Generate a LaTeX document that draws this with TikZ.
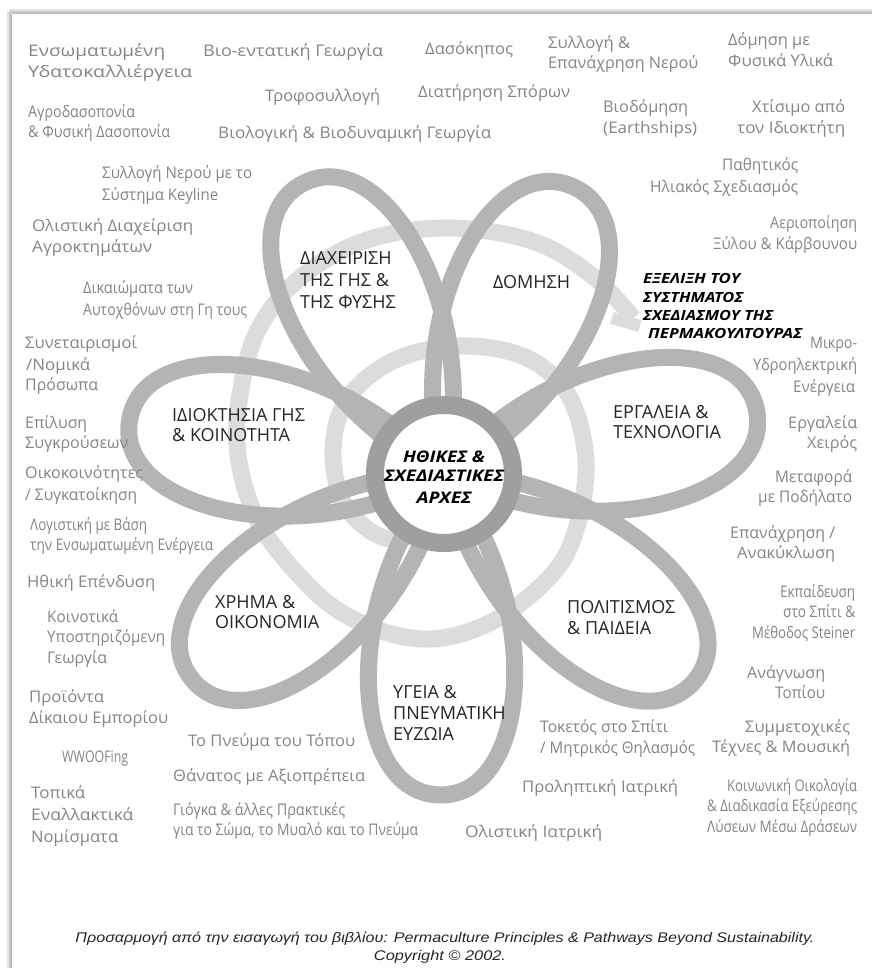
\documentclass[tikz,border=0pt]{standalone}
\usepackage{fontspec}
\usepackage{graphicx}
\setmainfont{Open Sans}
\newfontfamily\capfont{Liberation Sans}
\usetikzlibrary{calc}
\definecolor{petalc}{HTML}{B4B4B4}
\definecolor{spiralc}{HTML}{DCDCDC}
\definecolor{ringc}{HTML}{A09E9F}
\definecolor{labc}{HTML}{858585}
\definecolor{catc}{HTML}{262626}
\definecolor{framec}{HTML}{B8B8B8}
\tikzset{
  olab/.style={anchor=base west, inner sep=0pt, text=labc, font=\fontsize{16}{19}\selectfont},
  catlab/.style={anchor=base west, inner sep=0pt, text=catc, font=\fontsize{18}{21}\selectfont},
  ctrlab/.style={anchor=base, inner sep=0pt, text=black, font=\fontsize{16}{19}\selectfont\bfseries\itshape},
  evolab/.style={anchor=base west, inner sep=0pt, text=black, font=\fontsize{14}{17}\selectfont\bfseries\itshape},
  caplab/.style={anchor=base, inner sep=0pt, text=black!85, font=\fontsize{14}{17}\selectfont\capfont\itshape},
  petal/.style={draw=petalc, line width=17pt},
  spiralband/.style={draw=spiralc, line width=17pt},
  ring/.style={circle, draw=ringc, line width=18pt, fill=white, minimum size=138pt, inner sep=0pt}
}
\newcommand\Lab[5]{\node[olab] (#1) at (#2,{#3+5.5}) {\resizebox{#4pt}{\height}{#5}};}
\newcommand\Cat[4]{\node[catlab] (#1) at (#2,{#3+6.5}) {#4};}
\newcommand\Ctr[4]{\node[ctrlab] (#1) at (444,{#2+6}) {\resizebox{#3pt}{\height}{#4}};}
\newcommand\Evo[5]{\node[evolab] (#1) at (#2,{#3+5}) {\resizebox{#4pt}{\height}{#5}};}
\begin{document}
\begin{tikzpicture}[x=1pt,y=-1pt]
\useasboundingbox (0,0) rectangle (872,968);
\fill[white] (0,0) rectangle (872,968);
% frame with shadow
\draw[black!10, line width=2pt] (9,10) -- (872,10);
\draw[black!22, line width=1.5pt] (10,12) -- (872,12);
\draw[framec, line width=1.2pt] (11.5,13.8) -- (872,13.8);
\draw[black!10, line width=2pt] (8,11) -- (8,968);
\draw[black!22, line width=1.5pt] (10,12) -- (10,968);
\draw[framec, line width=1.2pt] (11.8,13.8) -- (11.8,968);

\coordinate (O) at (444,474);
% spiral
\draw[spiralband] plot[smooth, tension=0.6] coordinates {
 (432,530) (385,538) (345,505) (333,450) (348,398) (395,360) (460,346) (525,357)
 (567,393) (585,450) (582,505) (563,560) (521,603) (478,628) (432,639) (385,632)
 (333,607) (287,562) (255,515) (238,455) (240,395) (258,330) (300,278) (367,240)
 (450,228) (535,242) (595,278) (633,318)};
\coordinate (arrtip) at (640,326);
\coordinate (arrbarb) at (612,318);
\draw[spiralband, line width=12pt] (arrtip) -- (arrbarb);

% petals
\foreach \a/\L in {189.8/319, 244.5/323, 294.2/315, 348.4/319, 39.4/325, 90.7/321, 140.8/325}
  \draw[petal] (O) .. controls ($(O)+(\a-40:160)$) and ($(O)+(\a:\L)+(\a-90:92)$) .. ($(O)+(\a:\L)$)
     .. controls ($(O)+(\a:\L)+(\a+90:92)$) and ($(O)+(\a+40:160)$) .. (O);

% centre
\node[ring] (C) at (O) {};
\Ctr{ct1}{456}{82}{ΗΘΙΚΕΣ \&}
\Ctr{ct2}{475}{120}{ΣΧΕΔΙΑΣΤΙΚΕΣ}
\Ctr{ct3}{497}{55}{ΑΡΧΕΣ}

% categories
\Cat{ca1}{300}{258}{ΔΙΑΧΕΙΡΙΣΗ}
\Cat{ca2}{300}{280}{ΤΗΣ ΓΗΣ \&}
\Cat{ca3}{300}{302}{ΤΗΣ ΦΥΣΗΣ}
\Cat{cb1}{493}{282}{ΔΟΜΗΣΗ}
\Cat{cc1}{613}{412}{ΕΡΓΑΛΕΙΑ \&}
\Cat{cc2}{613}{432}{ΤΕΧΝΟΛΟΓΙΑ}
\Cat{cd1}{567}{607}{ΠΟΛΙΤΙΣΜΟΣ}
\Cat{cd2}{567}{628}{\& ΠΑΙΔΕΙΑ}
\Cat{ce1}{393}{692}{ΥΓΕΙΑ \&}
\Cat{ce2}{393}{713}{ΠΝΕΥΜΑΤΙΚΗ}
\Cat{ce3}{393}{734}{ΕΥΖΩΙΑ}
\Cat{cf1}{215}{602}{ΧΡΗΜΑ \&}
\Cat{cf2}{215}{622}{ΟΙΚΟΝΟΜΙΑ}
\Cat{cg1}{172}{415}{ΙΔΙΟΚΤΗΣΙΑ ΓΗΣ}
\Cat{cg2}{172}{435}{\& ΚΟΙΝΟΤΗΤΑ}

% evolution label
\Evo{ev1}{643}{278}{97}{ΕΞΕΛΙΞΗ ΤΟΥ}
\Evo{ev2}{643}{297}{100}{ΣΥΣΤΗΜΑΤΟΣ}
\Evo{ev3}{643}{315}{130}{ΣΧΕΔΙΑΣΜΟΥ ΤΗΣ}
\Evo{ev4}{648}{333}{154}{ΠΕΡΜΑΚΟΥΛΤΟΥΡΑΣ}

% outer labels
\Lab{a1}{28}{51}{137}{Ενσωματωμένη}
\Lab{a2}{28}{72}{164}{Υδατοκαλλιέργεια}
\Lab{b1}{203}{51}{180}{Βιο-εντατική Γεωργία}
\Lab{c1}{425}{49}{88}{Δασόκηπος}
\Lab{d1}{548}{43}{82}{Συλλογή \&}
\Lab{d2}{548}{63}{150}{Επανάχρηση Νερού}
\Lab{e1}{728}{40}{82}{Δόμηση με}
\Lab{e2}{728}{61}{105}{Φυσικά Υλικά}
\Lab{f1}{265}{96}{115}{Τροφοσυλλογή}
\Lab{g1}{418}{92}{152}{Διατήρηση Σπόρων}
\Lab{h1}{603}{107}{85}{Βιοδόμηση}
\Lab{h2}{603}{128}{94}{(Earthships)}
\Lab{i1}{752}{107}{93}{Χτίσιμο από}
\Lab{i2}{737}{128}{108}{τον Ιδιοκτήτη}
\Lab{j1}{28}{112}{107}{Αγροδασοπονία}
\Lab{j2}{28}{132}{142}{\& Φυσική Δασοπονία}
\Lab{k1}{218}{133}{273}{Βιολογική \& Βιοδυναμική Γεωργία}
\Lab{l1}{722}{165}{76}{Παθητικός}
\Lab{l2}{650}{187}{148}{Ηλιακός Σχεδιασμός}
\Lab{m1}{102}{173}{150}{Συλλογή Νερού με το}
\Lab{m2}{102}{195}{116}{Σύστημα Keyline}
\Lab{n1}{32}{226}{161}{Ολιστική Διαχείριση}
\Lab{n2}{32}{247}{120}{Αγροκτημάτων}
\Lab{o1}{770}{223}{87}{Αεριοποίηση}
\Lab{o2}{713}{244}{144}{Ξύλου \& Κάρβουνου}
\Lab{p1}{83}{288}{110}{Δικαιώματα των}
\Lab{p2}{83}{310}{164}{Αυτοχθόνων στη Γη τους}
\Lab{q1}{25}{343}{112}{Συνεταιρισμοί}
\Lab{q2}{26}{365}{64}{/Νομικά}
\Lab{q3}{25}{385}{73}{Πρόσωπα}
\Lab{r1}{810}{343}{47}{Μικρο-}
\Lab{r2}{753}{365}{104}{Υδροηλεκτρική}
\Lab{r3}{793}{387}{62}{Ενέργεια}
\Lab{s1}{25}{423}{62}{Επίλυση}
\Lab{s2}{25}{443}{103}{Συγκρούσεων}
\Lab{t1}{788}{423}{69}{Εργαλεία}
\Lab{t2}{807}{443}{50}{Χειρός}
\Lab{u1}{25}{473}{118}{Οικοκοινότητες}
\Lab{u2}{25}{495}{112}{/ Συγκατοίκηση}
\Lab{v1}{775}{477}{77}{Μεταφορά}
\Lab{v2}{758}{497}{94}{με Ποδήλατο}
\Lab{w1}{30}{525}{117}{Λογιστική με Βάση}
\Lab{w2}{30}{545}{183}{την Ενσωματωμένη Ενέργεια}
\Lab{x1}{730}{533}{105}{Επανάχρηση /}
\Lab{x2}{737}{553}{98}{Ανακύκλωση}
\Lab{y1}{27}{582}{128}{Ηθική Επένδυση}
\Lab{z1}{780}{592}{75}{Εκπαίδευση}
\Lab{z2}{783}{612}{72}{στο Σπίτι \&}
\Lab{z3}{752}{633}{103}{Μέθοδος Steiner}
\Lab{aa1}{47}{617}{71}{Κοινοτικά}
\Lab{aa2}{47}{637}{118}{Υποστηριζόμενη}
\Lab{aa3}{47}{658}{60}{Γεωργία}
\Lab{bb1}{747}{673}{78}{Ανάγνωση}
\Lab{bb2}{775}{693}{50}{Τοπίου}
\Lab{cc1}{29}{697}{75}{Προϊόντα}
\Lab{cc2}{29}{718}{139}{Δίκαιου Εμπορίου}
\Lab{dd1}{540}{727}{128}{Τοκετός στο Σπίτι}
\Lab{dd2}{540}{748}{155}{/ Μητρικός Θηλασμός}
\Lab{ee1}{745}{727}{105}{Συμμετοχικές}
\Lab{ee2}{712}{747}{138}{Τέχνες \& Μουσική}
\Lab{ff1}{188}{741}{167}{Το Πνεύμα του Τόπου}
\Lab{gg1}{62}{757}{66}{WWOOFing}
\Lab{hh1}{173}{776}{192}{Θάνατος με Αξιοπρέπεια}
\Lab{ii1}{522}{787}{156}{Προληπτική Ιατρική}
\Lab{jj1}{727}{786}{130}{Κοινωνική Οικολογία}
\Lab{jj2}{707}{806}{150}{\& Διαδικασία Εξεύρεσης}
\Lab{jj3}{707}{827}{150}{Λύσεων Μέσω Δράσεων}
\Lab{kk1}{31}{793}{54}{Τοπικά}
\Lab{kk2}{31}{815}{102}{Εναλλακτικά}
\Lab{kk3}{31}{837}{87}{Νομίσματα}
\Lab{ll1}{173}{810}{172}{Γιόγκα \& άλλες Πρακτικές}
\Lab{ll2}{173}{830}{245}{για το Σώμα, το Μυαλό και το Πνεύμα}
\Lab{mm1}{465}{832}{137}{Ολιστική Ιατρική}

% caption
\node[caplab] (cap1) at (445,942) {\resizebox{739pt}{\height}{Προσαρμογή από την εισαγωγή του βιβλίου: Permaculture Principles \& Pathways Beyond Sustainability.}};
\node[caplab] (cap2) at (440,960) {\resizebox{132pt}{\height}{Copyright © 2002.}};
\end{tikzpicture}
\end{document}
